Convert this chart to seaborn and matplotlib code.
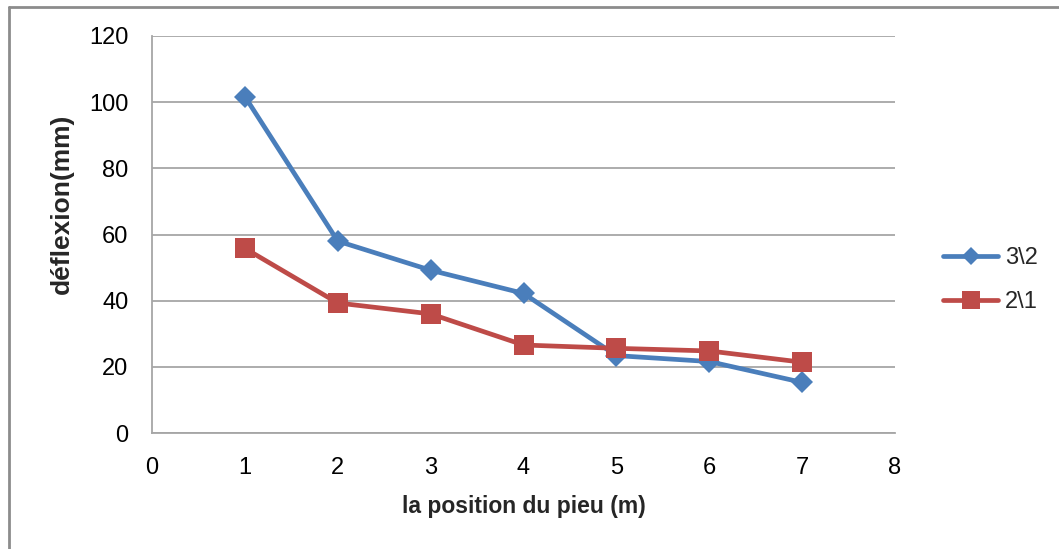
import matplotlib
matplotlib.use("Agg")
import matplotlib.pyplot as plt
from matplotlib.lines import Line2D
import seaborn as sns
import pandas as pd

positions = [1, 2, 3, 4, 5, 6, 7]
deflexion_3_2 = [101.7, 58.0, 49.2, 42.2, 23.4, 21.6, 15.3]
deflexion_2_1 = [55.8, 39.3, 36.0, 26.6, 25.6, 24.8, 21.4]
series_names = ["3\\2", "2\\1"]
x_ticks = [0, 1, 2, 3, 4, 5, 6, 7, 8]
y_ticks = [0, 20, 40, 60, 80, 100, 120]

sns.set_theme(style="white")
plt.rcParams["font.family"] = ["Liberation Sans", "DejaVu Sans"]

fig = plt.figure(figsize=(10.59, 5.49), dpi=100)
ax = fig.add_axes([152 / 1059, 1 - 433 / 549, (895 - 152) / 1059, (433 - 36) / 549])

colors = {series_names[0]: "#4A7EBB", series_names[1]: "#BE4B48"}
markers = {series_names[0]: "D", series_names[1]: "s"}
marker_sizes = {series_names[0]: 11.5, series_names[1]: 14}
line_width = 3.4

for name, values in zip(series_names, [deflexion_3_2, deflexion_2_1]):
    df = pd.DataFrame({"position": positions, "deflexion": values})
    sns.lineplot(data=df, x="position", y="deflexion", color=colors[name],
                 marker=markers[name], markersize=marker_sizes[name],
                 markeredgewidth=0, linewidth=line_width, ax=ax)

ax.set_xlim(0, 8)
ax.set_ylim(0, 120)
ax.set_xticks(x_ticks)
ax.set_yticks(y_ticks)
ax.tick_params(axis="both", labelsize=17, length=0, colors="#000000")
ax.tick_params(axis="x", pad=17)
ax.tick_params(axis="y", pad=17)
ax.yaxis.grid(True, color="#A6A6A6", linewidth=1.3)
ax.set_axisbelow(True)
for side in ["top", "right"]:
    ax.spines[side].set_visible(False)
for side in ["left", "bottom"]:
    ax.spines[side].set_color("#A6A6A6")
    ax.spines[side].set_linewidth(1.3)

ax.set_xlabel("la position du pieu (m)", fontsize=16.5, fontweight="bold")
ax.xaxis.set_label_coords(0.5, -(506 - 433) / 397)
ax.xaxis.label.set_va("center")
ax.set_ylabel("déflexion(mm)", fontsize=19, fontweight="bold")
ax.yaxis.set_label_coords((62 - 152) / 743, (433 - 204) / 397)
ax.yaxis.label.set_va("center")

handles = [
    Line2D([], [], color=colors[n], marker=markers[n], linewidth=line_width,
           markersize=marker_sizes[n] * (0.8 if n == series_names[0] else 0.9),
           markeredgewidth=0)
    for n in series_names
]
fig.legend(handles, series_names, loc="center left",
           bbox_to_anchor=(922 / 1059, 1 - 280 / 549), frameon=False,
           fontsize=17, handlelength=2.33, handletextpad=0.3, labelspacing=0.95)

# Outer frame of the chart area
frame_color = "#8C8C8C"
fig.add_artist(Line2D([9 / 1059, 1], [1 - 7 / 549, 1 - 7 / 549],
                      transform=fig.transFigure, color=frame_color, linewidth=2))
fig.add_artist(Line2D([9 / 1059, 9 / 1059], [0, 1 - 7 / 549],
                      transform=fig.transFigure, color=frame_color, linewidth=2))

fig.savefig("out.png", dpi=100)
